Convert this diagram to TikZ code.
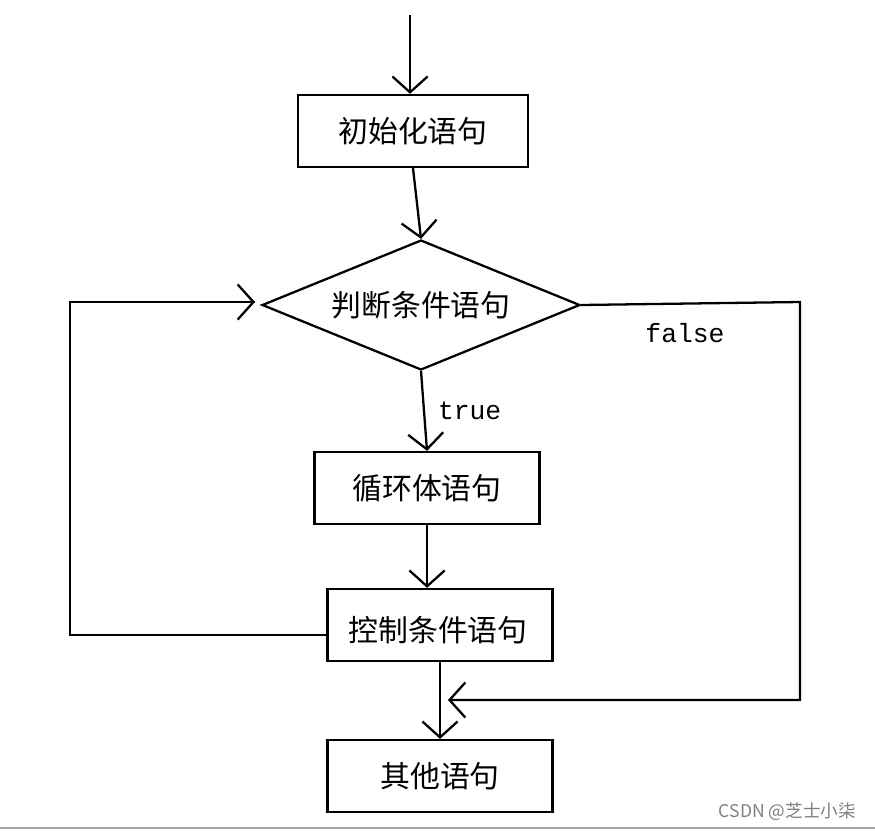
\documentclass[tikz,border=0pt]{standalone}
\usepackage{fontspec}
\newfontfamily\cjk{Noto Sans CJK SC}
\newfontfamily\mono{Liberation Mono}
\usetikzlibrary{arrows.meta,shapes.geometric}
\begin{document}
\begin{tikzpicture}[x=0.02cm,y=-0.02cm,
  box/.style={draw,line width=1.3pt,minimum width=4.5cm,minimum height=1.44cm,font=\cjk\fontsize{17}{20}\selectfont,inner sep=0pt},
  ln/.style={line width=1.3pt},
  arr/.style={ln,-{Straight Barb[length=9pt,width=20pt,line width=1.3pt]}}]
\useasboundingbox (0,0) rectangle (875,832);
\fill[white] (0,0) rectangle (875,832);
\coordinate (s) at (410,15);
\node[box,minimum width=4.6cm] (b1) at (413,131) {初始化语句};
\node[draw,diamond,aspect=2.45,line width=1.3pt,minimum width=6.36cm,minimum height=2.6cm,inner sep=0pt,font=\cjk\fontsize{17}{20}\selectfont] (d) at (421,305) {判断条件语句};
\node[box] (b3) at (427,488) {循环体语句};
\node[box] (b4) at (440,625) {};
\node[font=\cjk\fontsize{17}{20}\selectfont] at (438,630) {控制条件语句};
\node[box] (b5) at (440,776) {其他语句};
\draw[arr] (s) -- (b1.north -| s);
\draw[arr] (b1.south) -- (d.north);
\draw[arr] (d.south) -- node[right,font=\mono\fontsize{15}{18}\selectfont,xshift=4pt]{true} (b3.north);
\draw[arr] (b3.south) -- (b4.north -| b3.south);
\draw[arr] (b4.south) -- (b5.north);
\coordinate (l1) at (70,635);
\coordinate (l2) at (70,302);
\coordinate (le) at (255,302);
\draw[ln] (b4.west |- l1) -- (l1) -- (l2) -- (le);
\draw[arr] (200,302) -- (le);
\coordinate (r1) at (800,302);
\coordinate (r2) at (800,700);
\coordinate (re) at (448,700);
\draw[arr] (d.east) -- (r1) -- (r2) -- (re);
\node[font=\mono\fontsize{15}{18}\selectfont] (f) at (685,333) {false};
\draw[gray!70,line width=1pt] (0,828) -- (875,828);
\node[gray,font=\cjk\fontsize{10}{12}\selectfont,anchor=east] (w) at (862,812) {CSDN @芝士小柒};
\end{tikzpicture}
\end{document}
